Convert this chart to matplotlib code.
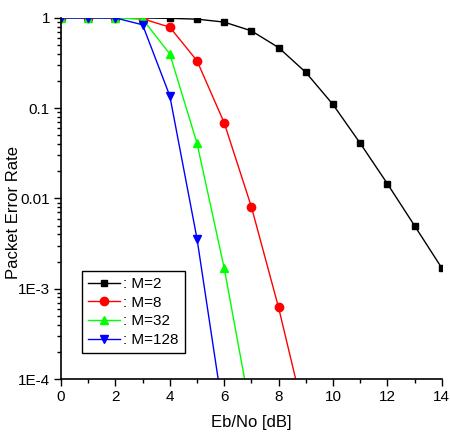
import matplotlib
matplotlib.use("Agg")
import matplotlib.pyplot as plt
from matplotlib.ticker import FixedLocator, LogLocator, NullFormatter, MultipleLocator

plt.rcParams['font.family'] = ['Liberation Sans', 'DejaVu Sans']

# Eb/No [dB] and packet error rate for each alphabet size
ebno_m2 = [0, 1, 2, 3, 4, 5, 6, 7, 8, 9, 10, 11, 12, 13, 14]
per_m2 = [1.0, 1.0, 1.0, 1.0, 0.99, 0.97, 0.90, 0.72, 0.47, 0.25, 0.11, 0.041, 0.0146, 0.005, 0.0017]

ebno_m8 = [0, 1, 2, 3, 4, 5, 6, 7, 8, 9]
per_m8 = [1.0, 1.0, 1.0, 0.98, 0.79, 0.336, 0.069, 0.0081, 6.2e-4, 3.4e-5]

ebno_m32 = [0, 1, 2, 3, 4, 5, 6, 7]
per_m32 = [1.0, 1.0, 1.0, 0.97, 0.40, 0.041, 0.0017, 3.9e-5]

ebno_m128 = [0, 1, 2, 3, 4, 5, 6]
per_m128 = [1.0, 1.0, 1.0, 0.84, 0.137, 0.0036, 3.6e-5]

labels = [': M=2', ': M=8', ': M=32', ': M=128']

fig = plt.figure(figsize=(4.5, 4.38), dpi=100)
ax = fig.add_axes([0.1356, 0.1347, 0.846, 0.8243])

ax.plot(ebno_m2, per_m2, color='black', marker='s', ms=5, lw=1, label=labels[0])
ax.plot(ebno_m8, per_m8, color='red', marker='o', ms=6, lw=1, label=labels[1])
ax.plot(ebno_m32, per_m32, color='#00ff00', marker='^', ms=6, lw=1, label=labels[2])
ax.plot(ebno_m128, per_m128, color='blue', marker='v', ms=6, lw=1, label=labels[3])

ax.set_yscale('log')
ax.set_ylim(1e-4, 1)
ax.set_xlim(0, 14)
ax.yaxis.set_major_locator(FixedLocator([1e-4, 1e-3, 1e-2, 1e-1, 1]))
ax.set_yticklabels(['1E-4', '1E-3', '0.01', '0.1', '1'])
ax.yaxis.set_minor_locator(LogLocator(base=10, subs=range(2, 10)))
ax.yaxis.set_minor_formatter(NullFormatter())
ax.xaxis.set_major_locator(MultipleLocator(2))
ax.xaxis.set_minor_locator(MultipleLocator(1))

for s in ['top', 'right']:
    ax.spines[s].set_visible(False)
ax.spines['left'].set_linewidth(1.2)
ax.spines['bottom'].set_linewidth(1.2)
ax.tick_params(which='major', length=5, width=1, labelsize=11, pad=3)
ax.tick_params(which='minor', length=3, width=1)

ax.set_xlabel('Eb/No [dB]', fontsize=12)
ax.xaxis.set_label_coords(0.5, -0.10)
ax.set_ylabel('Packet Error Rate', fontsize=12)
ax.yaxis.set_label_coords(-0.105, 0.46)

leg = ax.legend(loc='lower left', bbox_to_anchor=(0.055, 0.072), borderaxespad=0,
                fontsize=11, fancybox=False, edgecolor='black', framealpha=1,
                handlelength=2.1, handletextpad=0.2, borderpad=0.4,
                labelspacing=0.3)
leg.get_frame().set_linewidth(1)

fig.savefig('out.png', dpi=100)
